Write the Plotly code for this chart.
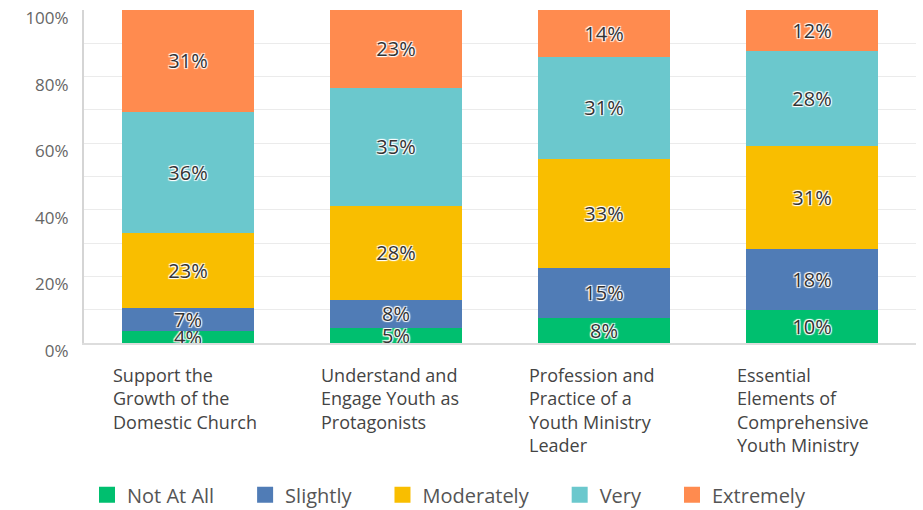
import plotly.graph_objects as go

categories = [
    "Support the<br>Growth of the<br>Domestic Church",
    "Understand and<br>Engage Youth as<br>Protagonists",
    "Profession and<br>Practice of a<br>Youth Ministry<br>Leader",
    "Essential<br>Elements of<br>Comprehensive<br>Youth Ministry",
]
series_names = ["Not At All", "Slightly", "Moderately", "Very", "Extremely"]
not_at_all = [3.6, 4.6, 7.6, 10.0]
slightly = [6.8, 8.4, 15.0, 18.2]
moderately = [22.7, 28.2, 32.8, 31.0]
very = [36.3, 35.4, 30.6, 28.4]
extremely = [30.6, 23.4, 14.0, 12.4]
y_ticks = [0, 20, 40, 60, 80, 100]
y_tick_labels = ["0%", "20%", "40%", "60%", "80%", "100%"]

colors = ["#00bf6f", "#507cb6", "#f9be00", "#6bc8cd", "#ff8b4f"]
values = [not_at_all, slightly, moderately, very, extremely]
xs = list(range(len(categories)))
halo = "1px 1px 1px white, -1px -1px 1px white, 1px -1px 1px white, -1px 1px 1px white"
pad = "\u00a0" * 5

fig = go.Figure()
for name, vals, col in zip(series_names, values, colors):
    fig.add_trace(go.Bar(
        x=xs, y=vals, name=name, showlegend=False,
        marker=dict(color=col, line=dict(width=0)),
        texttemplate="%{y:.0f}%",
        textposition="inside",
        insidetextanchor="middle",
        constraintext="none",
        textfont=dict(family="Open Sans", size=20, color="#333333", shadow=halo),
        hoverinfo="skip",
    ))

# legend entries with bigger square swatches
for name, col in zip(series_names, colors):
    fig.add_trace(go.Scatter(
        x=[None], y=[None], mode="markers", name=name + pad,
        marker=dict(symbol="square", size=16, color=col),
    ))

# left-aligned category labels under each bar
for i, lab in enumerate(categories):
    fig.add_annotation(
        x=i, y=0, xref="x", yref="paper", xanchor="left", yanchor="top",
        xshift=-77, yshift=-18, text=lab, showarrow=False, align="left",
        font=dict(family="Open Sans", size=18, color="#444444"),
    )

fig.update_layout(
    barmode="stack",
    bargap=0.365,
    width=923, height=510,
    margin=dict(l=84, r=7, t=10, b=167),
    plot_bgcolor="white", paper_bgcolor="white",
    font=dict(family="Open Sans", color="#555555"),
    showlegend=True,
    legend=dict(orientation="h", x=0.5, xanchor="center", xref="container",
                y=0.03, yanchor="middle", yref="container",
                font=dict(size=20, color="#555555"), traceorder="normal",
                itemsizing="trace"),
)
fig.update_xaxes(range=[-0.5, 3.5], showticklabels=False, showgrid=False, automargin=False,
                 showline=True, linecolor="#dddddd", linewidth=2, zeroline=False)
fig.update_yaxes(range=[0, 100], tickvals=y_ticks, ticktext=y_tick_labels, automargin=False,
                 tickfont=dict(size=17, color="#666666"), ticklabelstandoff=10,
                 ticklabelshift=8, ticklabeloverflow="allow",
                 showgrid=True, gridcolor="#ebebeb", gridwidth=1,
                 minor=dict(dtick=10, showgrid=True, gridcolor="#ebebeb"),
                 showline=True, linecolor="#d5d5d5", linewidth=2, zeroline=False)

fig.write_html("out.html", config={"displayModeBar": False},
               post_script="document.body.style.margin = '0';")
